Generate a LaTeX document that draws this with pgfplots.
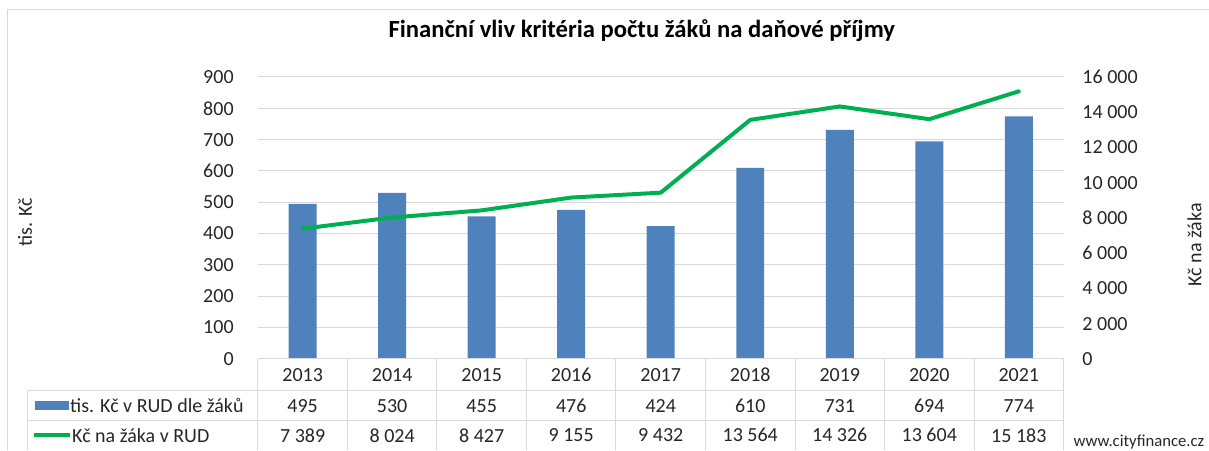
\documentclass[border=0pt]{standalone}
\usepackage{pgfplots}
\pgfplotsset{compat=1.18}
\usepackage{fontspec}
\setmainfont{Carlito}
\definecolor{barblue}{HTML}{4F81BD}
\definecolor{linegreen}{HTML}{00B050}
\definecolor{gridgray}{HTML}{D9D9D9}
\definecolor{txt}{HTML}{262626}
\newcommand{\tfont}{\fontsize{15}{18}\selectfont}
\begin{document}
\begin{tikzpicture}[x=0.75pt,y=0.75pt]
\path (0,0) rectangle (1209,450);
\draw[gridgray, line width=0.75pt] (8,0) -- (8,440) -- (1209,440);
% title
\node[font=\fontsize{18.5}{22}\selectfont\bfseries, text=black] at (642,419) {Finanční vliv kritéria počtu žáků na daňové příjmy};
\begin{axis}[
  at={(193.5pt,68.25pt)}, anchor=south west,
  scale only axis, width=604.5pt, height=211.5pt,
  xmin=-0.5, xmax=8.5, ymin=0, ymax=900,
  xtick=\empty,
  ytick={0,100,...,900},
  axis line style={draw=none},
  major tick length=0pt,
  ymajorgrids,
  grid style={gridgray, line width=0.75pt},
  yticklabel style={font=\tfont, text=txt, inner sep=0pt, anchor=east},
  yticklabel shift=18pt,
  /pgf/number format/assume math mode=true,
  clip=false,
]
\addplot[ybar, bar width=21pt, fill=barblue, draw=none] coordinates {
  (0,495) (1,530) (2,455) (3,476) (4,424) (5,610) (6,731) (7,694) (8,774)
};
\end{axis}
\begin{axis}[
  at={(193.5pt,68.25pt)}, anchor=south west,
  scale only axis, width=604.5pt, height=211.5pt,
  xmin=-0.5, xmax=8.5, ymin=0, ymax=16000,
  xtick=\empty,
  ytick={0,2000,...,16000},
  axis y line*=right,
  axis x line=none,
  axis line style={draw=none},
  major tick length=0pt,
  scaled y ticks=false,
  yticklabel style={font=\tfont, text=txt, inner sep=0pt, anchor=west,
    /pgf/number format/1000 sep={\ }},
  yticklabel shift=14pt,
  /pgf/number format/assume math mode=true,
  clip=false,
]
\addplot[linegreen, line width=3pt, line join=round, line cap=round, mark=none] coordinates {
  (0,7389) (1,8024) (2,8427) (3,9155) (4,9432) (5,13564) (6,14326) (7,13604) (8,15183)
};
\end{axis}
% axis titles
\node[rotate=90, font=\tfont, text=txt] at (25,228) {tis. Kč};
\node[rotate=90, font=\tfont, text=txt] at (1195,205) {Kč na žáka};
% data table
\begin{scope}[gridgray, line width=0.75pt]
  \draw (258,91) -- (1064,91);
  \draw (28,59) -- (1064,59);
  \draw (28,29) -- (1064,29);
  \draw (28,0) -- (28,59);
  \foreach \i in {0,...,9} {
    \draw ({258+89.556*\i},91) -- ({258+89.556*\i},0);
  }
\end{scope}
\foreach \i/\yr/\a/\b in {0/2013/495/{7 389},1/2014/530/{8 024},2/2015/455/{8 427},3/2016/476/{9 155},4/2017/424/{9 432},5/2018/610/{13 564},6/2019/731/{14 326},7/2020/694/{13 604},8/2021/774/{15 183}} {
  \node[font=\tfont, text=txt] at ({302.78+89.556*\i},75) {\yr};
  \node[font=\tfont, text=txt] at ({302.78+89.556*\i},44) {\a};
  \node[font=\tfont, text=txt] at ({302.78+89.556*\i},14.5) {\b};
}
% legend in table
\fill[barblue] (35,39.5) rectangle (69,48.5);
\node[font=\tfont, text=txt, anchor=west, inner sep=0pt] at (70,44) {tis. Kč v RUD dle žáků};
\draw[linegreen, line width=3pt] (34,14.5) -- (70,14.5);
\node[font=\tfont, text=txt, anchor=west, inner sep=0pt] at (72,14.5) {Kč na žáka v RUD};
% watermark
\node[font=\fontsize{12.5}{15}\selectfont, text=txt, anchor=east, inner sep=0pt] at (1205,8) {www.cityfinance.cz};
\end{tikzpicture}
\end{document}
